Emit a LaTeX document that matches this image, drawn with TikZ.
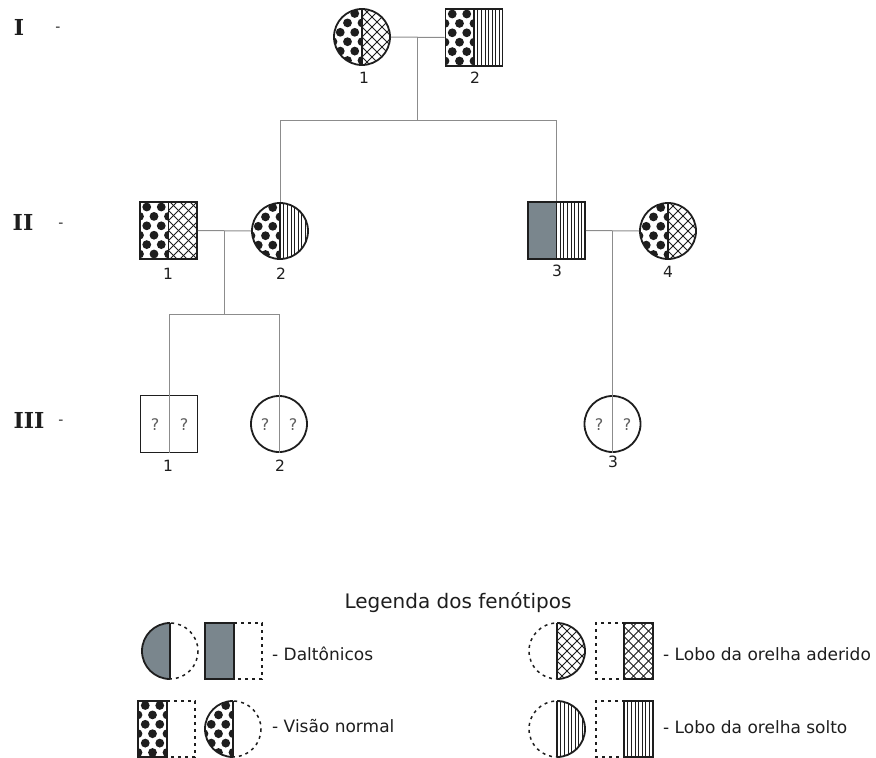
\documentclass[tikz,border=0pt]{standalone}
\usepackage{fontspec}
\setsansfont{DejaVu Sans}
\newfontfamily\genfont{DejaVu Serif}
\usetikzlibrary{calc}
\definecolor{dk}{RGB}{30,30,30}
\definecolor{lg}{RGB}{140,140,140}
\definecolor{fg}{RGB}{122,134,141}
\definecolor{qg}{RGB}{95,95,95}
\newcommand\patdots{\foreach \ya in {-4,...,4}{\foreach \xa in {-3,...,3}{\fill[dk] ({\xa*14.5+mod(abs(\ya)+1,2)*7.25-7.25},{\ya*9.4+4.7}) circle (4.4);}}}
\newcommand\patcross{\foreach \xa in {-9,...,9}{\draw[dk,line width=0.9pt] ({\xa*10-45},-45) -- ({\xa*10+45},45); \draw[dk,line width=0.9pt] ({\xa*10+45},-45) -- ({\xa*10-45},45);}}
\newcommand\patvert{\foreach \xa in {-12,...,12}{\draw[dk,line width=0.55pt] ({\xa*3.6},-45) -- ({\xa*3.6},45);}}
\newcommand\patgray{\fill[fg] (-45,-45) rectangle (45,45);}
\newcommand\legC[5]{\begin{scope}[shift={(#1,#2)}]
 \begin{scope}\clip (#3,-31) rectangle (0,31); \clip (0,0) circle (28); \csname pat#5\endcsname\end{scope}
 \begin{scope}\clip (#3,-31) rectangle (0,31); \draw[dk,line width=1.8pt] (0,0) circle (28);\end{scope}
 \begin{scope}\clip (#4,-31) rectangle (0,31); \draw[dk,line width=1.5pt,dash pattern=on 3pt off 4pt] (0,0) circle (28);\end{scope}
 \draw[dk,line width=1.8pt] (0,-28) -- (0,28);
\end{scope}}
\newcommand\legR[6]{%
 \begin{scope}\clip (#1,#4) rectangle (#2,#5);
  \begin{scope}[shift={({(#1+#2)/2},{(#4+#5)/2})}]\csname pat#6\endcsname\end{scope}\end{scope}
 \draw[dk,line width=1.8pt] (#1,#4) rectangle (#2,#5);
 \draw[dk,line width=1.5pt,dash pattern=on 3pt off 4pt] (#2,#4) -- (#3,#4) -- (#3,#5) -- (#2,#5);}
\tikzset{
 sym/.style={draw=dk, line width=1.8pt, inner sep=0pt},
 fem/.style={sym, circle, minimum size=56pt},
 mal/.style={sym, rectangle, minimum size=57pt},
 qfem/.style={draw=dk, line width=1.8pt, inner sep=0pt, circle, minimum size=56pt},
 qmal/.style={draw=dk, line width=1.8pt, inner sep=0pt, rectangle, minimum size=57pt},
 halves/.style 2 args={path picture={\begin{scope}[shift={(path picture bounding box.center)}]
   \begin{scope}\clip (-45,-45) rectangle (0,45); \csname pat#1\endcsname\end{scope}
   \begin{scope}\clip (0,-45) rectangle (45,45); \csname pat#2\endcsname\end{scope}
   \draw[dk,line width=1.8pt] (0,-45) -- (0,45);\end{scope}}},
 conn/.style={draw=lg, line width=1pt},
 num/.style={font=\sffamily\fontsize{15.5}{15.5}\selectfont, text=dk, inner sep=0pt},
 qm/.style={font=\sffamily\fontsize{16}{16}\selectfont, text=qg, inner sep=0pt},
 gen/.style={font=\genfont\bfseries\fontsize{22}{22}\selectfont, text=dk, inner sep=0pt},
 gdash/.style={font=\sffamily\fontsize{14}{14}\selectfont, text=dk, inner sep=0pt},
 leg/.style={font=\sffamily\fontsize{17}{17}\selectfont, text=dk, inner sep=0pt},
 legt/.style={font=\sffamily\fontsize{20}{20}\selectfont, text=dk, inner sep=0pt},
}
\begin{document}
\begin{tikzpicture}[x=1pt,y=-1pt]
\useasboundingbox (0,0) rectangle (876,758);
% generation labels
\node[gen] (gI) at (19,27) {I};
\node[gdash] (dI) at (58,29) {-};
\node[gen] (gII) at (23,222) {II};
\node[gdash] (dII) at (61,225) {-};
\node[gen] (gIII) at (29,420) {III};
\node[gdash] (dIII) at (61,422) {-};
% generation I
\node[fem, halves={dots}{cross}] (I1) at (362,37) {};
\node[mal, halves={dots}{vert}] (I2) at (474,37.5) {};
% generation II
\node[mal, halves={dots}{cross}] (II1) at (168.5,230.5) {};
\node[fem, halves={dots}{vert}] (II2) at (280,231) {};
\node[mal, halves={gray}{vert}] (II3) at (556.5,230.5) {};
\node[fem, halves={dots}{cross}] (II4) at (668,231) {};
% generation III
\node[qmal] (III1) at (169,424) {};
\node[qfem] (III2) at (279,424) {};
\node[qfem] (III3) at (612.5,424) {};
% numbers
\node[num] (nI1) at (364,78) {1};
\node[num] (nI2) at (475,78) {2};
\node[num] (nII1) at (168,274) {1};
\node[num] (nII2) at (281,274) {2};
\node[num] (nII3) at (557,271) {3};
\node[num] (nII4) at (668,272) {4};
\node[num] (nIII1) at (168,466) {1};
\node[num] (nIII2) at (280,466) {2};
\node[num] (nIII3) at (613,462) {3};
% question marks
\node[qm] (q1a) at (155,425) {?};
\node[qm] (q1b) at (184,425) {?};
\node[qm] (q2a) at (265,425) {?};
\node[qm] (q2b) at (293,425) {?};
\node[qm] (q3a) at (599,425) {?};
\node[qm] (q3b) at (627,425) {?};
% connectors
\draw[conn] (I1.east) -- (I2.west);
\coordinate (m1) at ($(I1.east)!0.5!(I2.west)$);
\coordinate (s1) at ($(m1)+(0,83)$);
\draw[conn] (m1) -- (s1);
\draw[conn] (s1) -| (II2.north);
\draw[conn] (s1) -| (II3.north);
\draw[conn] (II1.east) -- (II2.west);
\coordinate (m2) at ($(II1.east)!0.5!(II2.west)$);
\coordinate (s2) at ($(m2)+(0,84)$);
\draw[conn] (m2) -- (s2);
\draw[conn] (s2) -| (III1.south);
\draw[conn] (s2) -| (III2.south);
\draw[conn] (II3.east) -- (II4.west);
\coordinate (m3) at ($(II3.east)!0.5!(II4.west)$);
\draw[conn] (m3) -| (III3.south);
% legend
\node[legt, anchor=base] (lt) at (458,608) {Legenda dos fenótipos};
\legC{170}{651}{-31}{31}{gray}
\legR{205}{234}{262}{623}{679}{gray}
\node[leg, anchor=base west] (l1) at (272,660) {- Daltônicos};
\legR{138}{167}{195}{701}{757}{dots}
\legC{233}{729}{-31}{31}{dots}
\node[leg, anchor=base west] (l2) at (272,732) {- Visão normal};
\legC{557}{651}{31}{-31}{cross}
\legR{624}{653}{596}{623}{679}{cross}
\node[leg, anchor=base west] (l3) at (663,660) {- Lobo da orelha aderido};
\legC{557}{729}{31}{-31}{vert}
\legR{624}{653}{596}{701}{757}{vert}
\node[leg, anchor=base west] (l4) at (663,733) {- Lobo da orelha solto};
\end{tikzpicture}
\end{document}
